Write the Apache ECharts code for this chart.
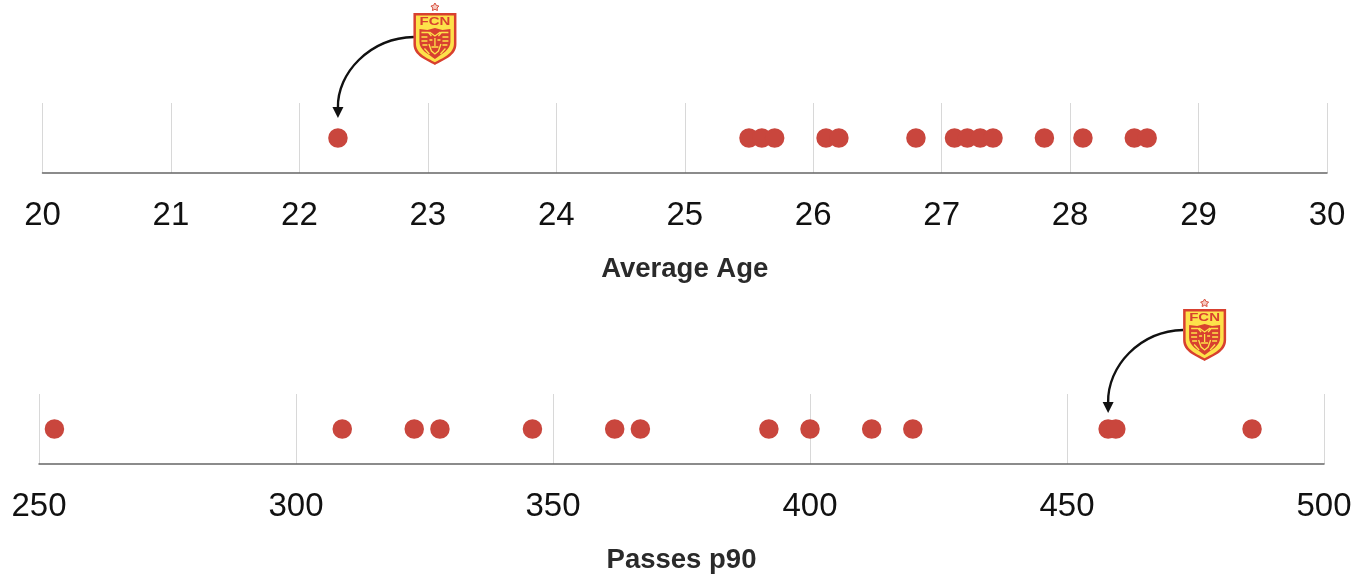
<!DOCTYPE html>
<html><head><meta charset="utf-8">
<style>html,body{margin:0;padding:0;background:#fff}#c{width:1358px;height:576px}</style>
<script src="https://cdn.jsdelivr.net/npm/echarts@6/dist/echarts.min.js"></script>
</head><body><div id="c"></div>
<script>
const ageTicks = [20,21,22,23,24,25,26,27,28,29,30];
const ageValues = [22.3,25.5,25.6,25.7,26.1,26.2,26.8,27.1,27.2,27.3,27.4,27.8,28.1,28.5,28.6];
const passTicks = [250,300,350,400,450,500];
const passValues = [253,309,323,328,346,362,367,392,400,412,420,458,459.5,486];
const ageTitle = 'Average Age';
const passTitle = 'Passes p90';
const highlightAge = 22.3;
const highlightPass = 458;

const RED = '#c9463d', FONT = '"Liberation Sans", Arial, sans-serif';
const shapes = {
  fcnShield:'M0,0 H43 V31 C43,43 30,47 21.5,52 C13,47 0,43 0,31 Z',
  fcnInner:'M2.5,2.5 H40.5 V30.5 C40.5,41 29,45 21.5,49.3 C14,45 2.5,41 2.5,30.5 Z',
  fcnLion:'M6,16 L14,17 L21.5,15 L29,17 L37,16 V29 C37,37 28,41 21.5,46 C15,41 6,37 6,29 Z',
  fcnLines:'M8,19.5 H15 L18,23 M35,19.5 H28 L25,23 M8,24 H14 M35,24 H29 M8,28 H14 M35,28 H29 M9,32 H14 M34,32 H29 M16,19 L21.5,23 L27,19 M16,27 H19 M24,27 H27 M21.5,25 V33 M15.5,31 L18,38 L21.5,41 L25,38 L27.5,31 M18,34 H25 M11,35.5 L16,41 M32,35.5 L27,41',
  fcnStar:'M21.5,-10 L23,-7.5 L25.5,-7 L23.6,-5 L24,-2.5 L21.5,-3.7 L19,-2.5 L19.4,-5 L17.5,-7 L20,-7.5 Z'
};
Object.keys(shapes).forEach(k => echarts.graphic.registerShape(k, echarts.graphic.extendPath(shapes[k], {})));

const chart = echarts.init(document.getElementById('c'), null, {renderer:'canvas'});
function xAxis(idx, ticks, title){
  return {gridIndex:idx, type:'value', min:ticks[0], max:ticks[ticks.length-1], interval:ticks[1]-ticks[0],
    name:title, nameLocation:'middle', nameGap:96,
    nameTextStyle:{fontFamily:FONT, fontSize:27.5, fontWeight:'bold', color:'#2a2a2a', verticalAlign:'middle'},
    axisLine:{show:true, onZero:false, lineStyle:{color:'#666', width:1.5}},
    axisTick:{show:false},
    axisLabel:{show:true, margin:26, fontFamily:FONT, fontSize:33, color:'#111', hideOverlap:false, showMinLabel:true, showMaxLabel:true},
    splitLine:{show:true, lineStyle:{color:'#d8d8d8', width:1}}};
}
function yAxis(idx){ return {gridIndex:idx, type:'value', min:-1, max:1, show:false}; }
function series(idx, vals){
  return {type:'scatter', xAxisIndex:idx, yAxisIndex:idx, symbol:'circle', symbolSize:19.5,
    itemStyle:{color:RED, opacity:1}, silent:true, data:vals.map(v=>[v,0])};
}
chart.setOption({
  animation:false, backgroundColor:'#fff',
  grid:[{left:42.5, width:1284.5, top:103, height:70},{left:39, width:1285, top:394, height:70}],
  xAxis:[xAxis(0,ageTicks,ageTitle), xAxis(1,passTicks,passTitle)],
  yAxis:[yAxis(0), yAxis(1)],
  series:[series(0,ageValues), series(1,passValues)]
});

function logo(x,y){
  const yellow='#fde14a', red='#d8402f';
  return {type:'group', x, y, silent:true, children:[
    {type:'fcnShield', shape:{}, style:{fill:red}},
    {type:'fcnInner', shape:{}, style:{fill:yellow}},
    {type:'fcnLion', shape:{}, style:{fill:red}},
    {type:'fcnLines', shape:{}, style:{fill:'none', stroke:yellow, lineWidth:1.3}},
    {type:'text', x:21.5, y:9, scaleY:0.72, style:{text:'FCN', fontFamily:FONT, fontWeight:'bold', fontSize:15, fill:red, align:'center', verticalAlign:'middle'}},
    {type:'fcnStar', shape:{}, style:{fill:'#f6c9c0', stroke:'#d8503f', lineWidth:1}}
  ]};
}
function annotate(gridIdx, value, o){
  const p = chart.convertToPixel({xAxisIndex:gridIdx, yAxisIndex:gridIdx}, [value,0]);
  const tipY = p[1]-o.tip, sx = p[0]+o.sx, sy = p[1]-o.sy;
  return [
    {type:'bezierCurve', silent:true, shape:{x1:sx,y1:sy,x2:p[0],y2:tipY-10,cpx1:p[0]+32,cpy1:sy+1,cpx2:p[0]-1,cpy2:sy+36},
     style:{stroke:'#111', lineWidth:2.4, fill:'none'}},
    {type:'polygon', silent:true, shape:{points:[[p[0],tipY],[p[0]-5.5,tipY-11],[p[0]+5.5,tipY-11]]}, style:{fill:'#111'}},
    logo(p[0]+o.lx, p[1]-o.ly)
  ];
}
chart.setOption({graphic:{elements:[
  ...annotate(0, highlightAge, {tip:20, sx:76, sy:101, lx:75.5, ly:125}),
  ...annotate(1, highlightPass, {tip:16, sx:75, sy:99, lx:75, ly:120})
]}});
</script></body></html>
